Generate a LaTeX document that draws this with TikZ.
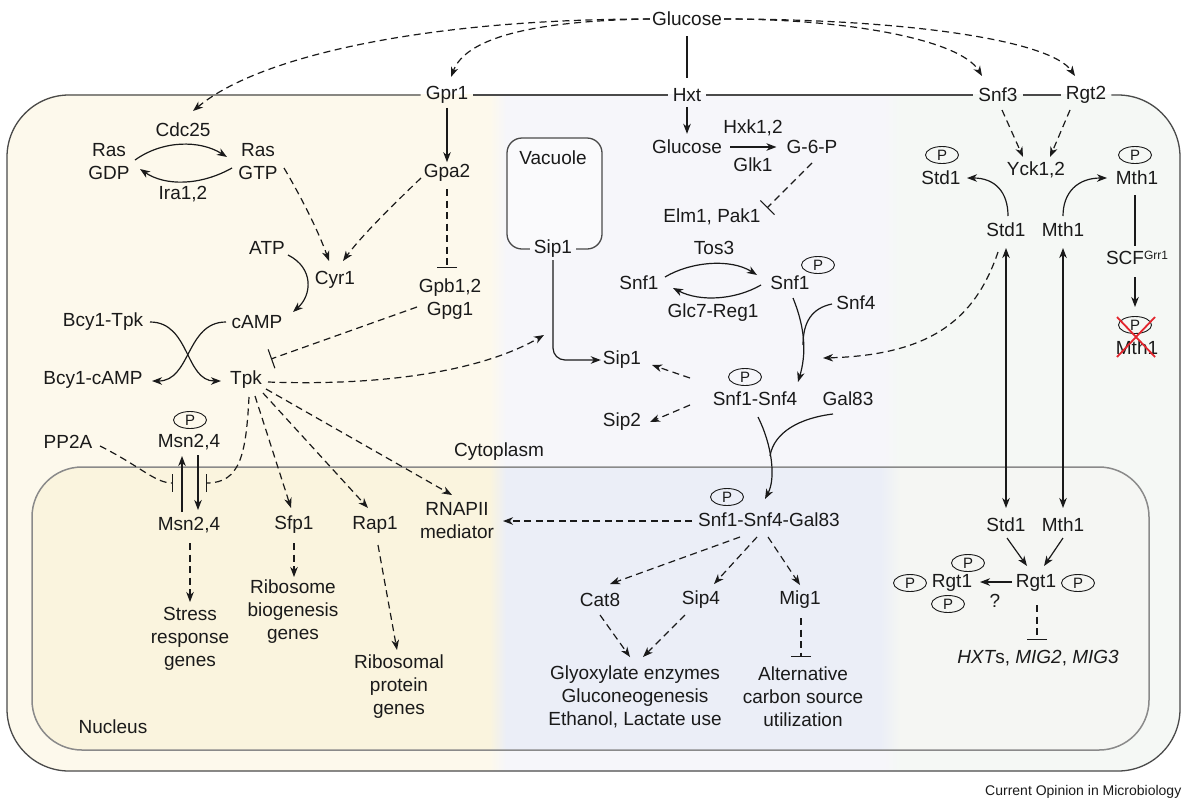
\documentclass[tikz,border=0pt]{standalone}
\usepackage{fontspec}
\setmainfont{Liberation Sans}
\usetikzlibrary{arrows.meta,shapes.geometric}
\definecolor{cytL}{HTML}{FDF9EC}
\definecolor{cytM}{HTML}{F6F6FA}
\definecolor{cytR}{HTML}{F5F8F5}
\definecolor{nucL}{HTML}{FAF4DE}
\definecolor{nucM}{HTML}{EBEEF7}
\definecolor{nucR}{HTML}{F5F6F3}
\definecolor{vac}{HTML}{FAFAFC}
\definecolor{ink}{HTML}{1A1A1A}
\definecolor{memb}{HTML}{4A4A4A}
\definecolor{nmemb}{HTML}{8A8A8A}
\definecolor{xred}{HTML}{E3262E}
\begin{document}
\begin{tikzpicture}[x=1pt,y=1pt,
  lbl/.style={font=\fontsize{19}{23}\selectfont, text=ink, inner sep=2pt, align=center},
  mlbl/.style={lbl, inner xsep=5pt},
  pc/.style={draw=ink, ellipse, minimum width=33pt, minimum height=17pt, inner sep=0pt,
     font=\fontsize{15}{15}\selectfont, text=ink, line width=0.9pt},
  plain/.style={draw=ink, line width=1.2pt},
  act/.style={plain, -{Stealth[length=10pt,width=7.5pt,inset=3pt]}},
  dact/.style={act, dash pattern=on 7pt off 4.5pt},
  dbl/.style={plain, {Stealth[length=10pt,width=7.5pt,inset=3pt]}-{Stealth[length=10pt,width=7.5pt,inset=3pt]}},
  inh/.style={plain, dash pattern=on 7pt off 4.5pt, -{Bar[width=20pt,line width=1.1pt]}},
  membr/.style={draw=memb, line width=1.3pt},
]
\useasboundingbox (0,0) rectangle (1182,-801);

% ---------- backgrounds ----------
\begin{scope}
  \clip[rounded corners=62pt] (7,-94) rectangle (1180,-771);
  \fill[cytL] (0,-90) rectangle (490,-775);
  \shade[left color=cytL,right color=cytM] (490,-90) rectangle (506,-775);
  \fill[cytM] (506,-90) rectangle (884,-775);
  \shade[left color=cytM,right color=cytR] (884,-90) rectangle (900,-775);
  \fill[cytR] (900,-90) rectangle (1182,-775);
\end{scope}
\begin{scope}
  \clip[rounded corners=50pt] (32,-467) rectangle (1149,-750);
  \fill[nucL] (0,-460) rectangle (490,-755);
  \shade[left color=nucL,right color=nucM] (490,-460) rectangle (506,-755);
  \fill[nucM] (506,-460) rectangle (880,-755);
  \shade[left color=nucM,right color=nucR] (880,-460) rectangle (900,-755);
  \fill[nucR] (900,-460) rectangle (1182,-755);
\end{scope}
\fill[vac, rounded corners=15pt] (507,-138) rectangle (602,-249);
\draw[nmemb, line width=1.5pt, rounded corners=50pt] (32,-467) rectangle (1149,-750);

% ---------- nodes ----------
\node[lbl] (glc) at (687,-19) {Glucose};
\node[mlbl] (gpr1) at (447,-95) {Gpr1};
\node[mlbl] (hxt) at (687,-95) {Hxt};
\node[mlbl] (snf3) at (998,-95) {Snf3};
\node[mlbl] (rgt2) at (1086,-95) {Rgt2};

\node[lbl] (cdc25) at (183,-130) {Cdc25};
\node[lbl] (rasgdp) at (109,-162) {Ras\\GDP};
\node[lbl] (rasgtp) at (258,-162) {Ras\\GTP};
\node[lbl] (ira) at (183,-194) {Ira1,2};
\node[lbl] (gpa2) at (447,-173) {Gpa2};
\node[lbl] (atp) at (267,-248) {ATP};
\node[lbl] (cyr1) at (335,-280) {Cyr1};
\node[lbl] (gpb) at (450,-299) {Gpb1,2\\Gpg1};
\node[lbl] (bcytpk) at (103,-322) {Bcy1-Tpk};
\node[lbl] (camp) at (257,-322) {cAMP};
\node[lbl] (bcycamp) at (93,-380) {Bcy1-cAMP};
\node[lbl] (tpk) at (246,-380) {Tpk};
\node[lbl] (pp2a) at (68,-442) {PP2A};
\node[pc] (pmsn) at (190,-420) {P};
\node[lbl] (msnc) at (189,-442) {Msn2,4};
\node[lbl] (cyto) at (499,-452) {Cytoplasm};
\node[lbl] (msnn) at (189,-525) {Msn2,4};
\node[lbl] (sfp1) at (294,-525) {Sfp1};
\node[lbl] (rap1) at (375,-525) {Rap1};
\node[lbl] (rnap) at (457,-521) {RNAPII\\mediator};
\node[lbl] (stress) at (190,-639) {Stress\\response\\genes};
\node[lbl] (ribo) at (293,-612) {Ribosome\\biogenesis\\genes};
\node[lbl] (ribp) at (399,-687) {Ribosomal\\protein\\genes};
\node[lbl] (nucleus) at (113,-727) {Nucleus};

\node[lbl] (glc2) at (687,-147) {Glucose};
\node[lbl] (hxk) at (753,-128) {Hxk1,2};
\node[lbl] (glk) at (753,-165) {Glk1};
\node[lbl] (g6p) at (812,-147) {G-6-P};
\node[lbl] (elm) at (712,-217) {Elm1, Pak1};
\node[lbl] (vacuole) at (553,-158) {Vacuole};
\node[mlbl, inner xsep=4pt] (sip1v) at (553,-249) {Sip1};
\node[lbl] (tos3) at (714,-248) {Tos3};
\node[lbl] (snf1a) at (639,-283) {Snf1};
\node[lbl] (snf1b) at (790,-283) {Snf1};
\node[pc] (psnf1) at (818,-265) {P};
\node[lbl] (glc7) at (713,-313) {Glc7-Reg1};
\node[lbl] (snf4) at (856,-303) {Snf4};
\node[lbl] (sip1c) at (622,-360) {Sip1};
\node[lbl] (sip2) at (622,-422) {Sip2};
\node[pc] (pss) at (745,-377) {P};
\node[lbl] (ss) at (755,-399) {Snf1-Snf4};
\node[lbl] (gal83) at (848,-399) {Gal83};
\node[pc] (pssg) at (727,-497) {P};
\node[lbl] (ssg) at (769,-520) {Snf1-Snf4-Gal83};
\node[lbl] (cat8) at (600,-600) {Cat8};
\node[lbl] (sip4) at (701,-600) {Sip4};
\node[lbl] (mig1) at (800,-600) {Mig1};
\node[lbl] (glyox) at (635,-697) {Glyoxylate enzymes\\Gluconeogenesis\\Ethanol, Lactate use};
\node[lbl] (alt) at (803,-697) {Alternative\\carbon source\\utilization};

\node[lbl] (yck) at (1036,-170) {Yck1,2};
\node[pc] (pstd) at (942,-155) {P};
\node[lbl] (pstd1) at (941,-178) {Std1};
\node[pc] (pmth) at (1135,-155) {P};
\node[lbl] (pmth1) at (1137,-178) {Mth1};
\node[lbl] (std1) at (1006,-230) {Std1};
\node[lbl] (mth1) at (1063,-230) {Mth1};
\node[lbl] (scf) at (1137,-258) {SCF\raisebox{5pt}{\fontsize{12}{12}\selectfont Grr1}};
\node[pc] (pdeg) at (1135,-325) {P};
\node[lbl] (mthdeg) at (1137,-348) {Mth1};
\node[lbl] (std1n) at (1006,-525) {Std1};
\node[lbl] (mth1n) at (1063,-525) {Mth1};
\node[lbl] (rgt1r) at (1036,-583) {Rgt1};
\node[pc] (prr) at (1078,-583) {P};
\node[lbl] (rgt1l) at (952,-583) {Rgt1};
\node[pc] (pl1) at (910,-583) {P};
\node[pc] (pl2) at (968,-563) {P};
\node[pc] (pl3) at (948,-604) {P};
\node[lbl] (q) at (995,-601) {?};
\node[lbl] (hxts) at (1038,-658) {\itshape HXT\upshape s, \itshape MIG2\upshape , \itshape MIG3};
\node[anchor=west, font=\fontsize{14}{14}\selectfont, text=ink, inner sep=0pt] (credit) at (985,-792) {Current Opinion in Microbiology};

% ---------- membranes ----------
\draw[membr, rounded corners=62pt] (gpr1.west) -- (7,-95) -- (7,-771) -- (1180,-771) -- (1180,-95) -- (rgt2.east);
\draw[membr] (gpr1.east) -- (hxt.west) (hxt.east) -- (snf3.west) (snf3.east) -- (rgt2.west);
\draw[membr, rounded corners=15pt] (sip1v.east) -- (602,-249) -- (602,-138) -- (507,-138) -- (507,-249) -- (sip1v.west);

% ---------- glucose sensing ----------
\draw[dact] (glc.west) .. controls (430,-19) and (260,-55) .. (193,-111);
\draw[dact] (glc.west) .. controls (525,-21) and (465,-40) .. (451,-77);
\draw[dact] (glc.east) .. controls (850,-19) and (960,-40) .. (982,-76);
\draw[dact] (glc.east) .. controls (905,-19) and (1050,-40) .. (1075,-76);
\draw[plain, shorten <=8pt, shorten >=8pt] (glc) -- (hxt);
\draw[act, shorten <=3pt, shorten >=4pt] (hxt) -- (glc2);
\draw[act, shorten <=6pt, shorten >=8pt] (glc2) -- (g6p);
\draw[inh] (812,-163) -- (767,-208);

% ---------- PKA branch ----------
\draw[act] (135,-160) .. controls (163,-140) and (200,-140) .. (227,-157);
\draw[act] (232,-168) .. controls (200,-186) and (165,-186) .. (140,-169);
\draw[dact] (284,-168) .. controls (300,-195) and (318,-230) .. (329,-261);
\draw[dact] (421,-178) .. controls (398,-200) and (362,-235) .. (343,-261);
\draw[act, shorten <=2pt] (gpr1) -- (gpa2);
\draw[inh] (447,-189) -- (447,-268);
\draw[act] (288,-255) .. controls (314,-268) and (312,-295) .. (293,-312);
\draw[act] (150,-322) .. controls (190,-322) and (185,-381) .. (221,-381);
\draw[act] (226,-322) .. controls (186,-322) and (191,-381) .. (152,-381);
\draw[inh] (417,-307) -- (271,-359);
\draw[dact] (268,-382) .. controls (380,-386) and (480,-372) .. (544,-335);
\draw[dact] (266,-389) -- (452,-495);
\draw[dact] (263,-393) -- (368,-508);
\draw[dact] (255,-396) -- (291,-508);
\draw[inh, -{Bar[width=18pt,line width=1.1pt]}] (249,-397) .. controls (246,-455) and (240,-483) .. (206,-483);
\draw[inh, -{Bar[width=18pt,line width=1.1pt]}] (100,-446) .. controls (140,-466) and (155,-483) .. (173,-483);
\draw[act] (182,-512) -- (182,-456);
\draw[act] (198,-455) -- (198,-510);
\draw[dact] (190,-543) -- (190,-602);
\draw[dact] (294,-543) -- (294,-577);
\draw[dact] (378,-545) -- (397,-650);

% ---------- Snf1 branch ----------
\draw[act, rounded corners=12pt] (sip1v.south) -- (553,-360) -- (sip1c.west);
\draw[act] (665,-277) .. controls (690,-262) and (730,-258) .. (757,-275);
\draw[act] (761,-285) .. controls (735,-300) and (700,-302) .. (673,-288);
\draw[act] (793,-298) .. controls (806,-330) and (806,-355) .. (798,-382);
\draw[plain] (832,-304) .. controls (812,-308) and (803,-322) .. (803,-345);
\draw[dact] (998,-252) .. controls (975,-320) and (930,-355) .. (823,-358);
\draw[dact] (690,-378) -- (652,-365);
\draw[dact] (690,-405) -- (650,-422);
\draw[act] (758,-417) .. controls (772,-445) and (776,-478) .. (765,-499);
\draw[plain] (833,-414) .. controls (800,-418) and (774,-432) .. (770,-456);
\draw[dact] (692,-521) -- (503,-521);
\draw[dact] (740,-537) -- (610,-584);
\draw[dact] (757,-537) -- (714,-584);
\draw[dact] (768,-537) -- (800,-585);
\draw[dact] (600,-615) -- (630,-657);
\draw[dact] (685,-615) -- (643,-657);
\draw[inh] (801,-618) -- (801,-657);

% ---------- Rgt2/Snf3 branch ----------
\draw[dact] (1002,-110) -- (1023,-157);
\draw[dact] (1070,-110) -- (1050,-157);
\draw[act] (1008,-216) .. controls (1008,-192) and (995,-178) .. (967,-178);
\draw[act] (1063,-216) .. controls (1063,-192) and (1078,-178) .. (1107,-178);
\draw[plain] (1135,-195) -- (1135,-246);
\draw[act] (1135,-277) -- (1135,-307);
\draw[xred, line width=1.8pt] (1117,-317) -- (1155,-357) (1155,-317) -- (1117,-357);
\draw[dbl] (1006,-248) -- (1006,-508);
\draw[dbl] (1063,-248) -- (1063,-508);
\draw[act] (1007,-538) -- (1027,-566);
\draw[act] (1063,-538) -- (1044,-566);
\draw[act] (1012,-582) -- (980,-582);
\draw[inh] (1037,-605) -- (1037,-640);
\end{tikzpicture}
\end{document}
